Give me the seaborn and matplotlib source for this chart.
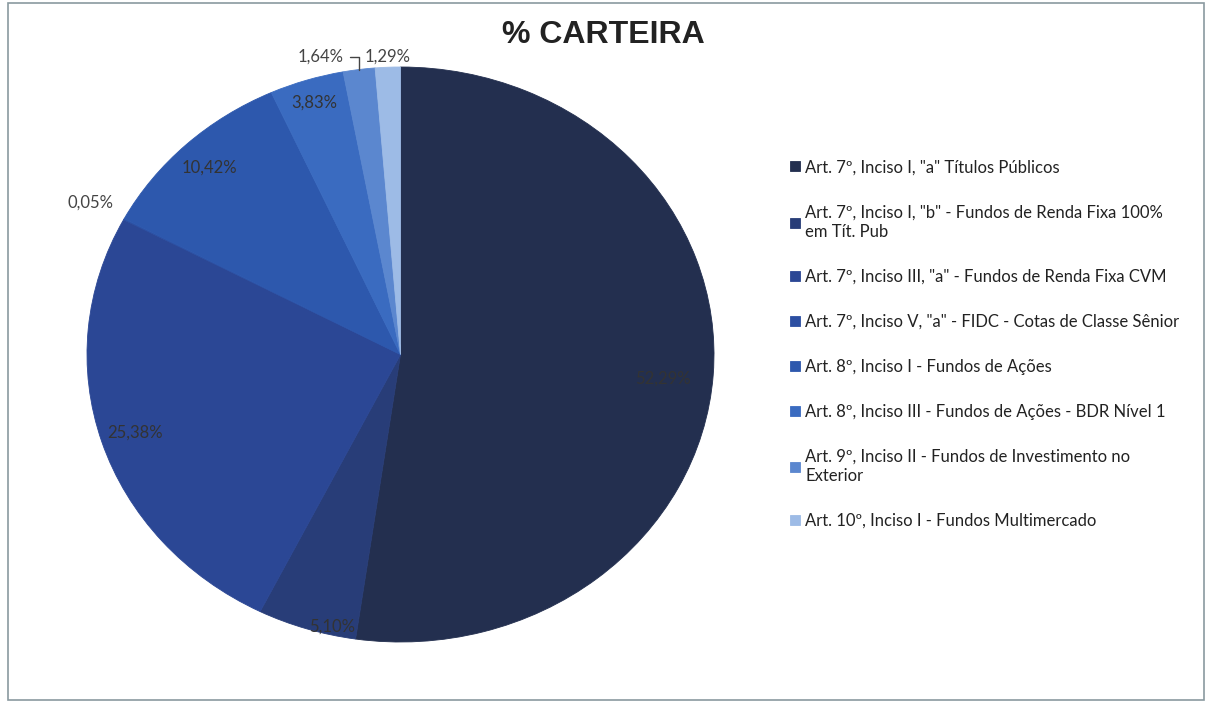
import numpy as np
import seaborn as sns
import matplotlib.pyplot as plt
from matplotlib.patches import Rectangle

categorias = [
    'Art. 7º, Inciso I, "a" Títulos Públicos',
    'Art. 7º, Inciso I, "b" - Fundos de Renda Fixa 100%\nem Tít. Pub',
    'Art. 7º, Inciso III, "a" - Fundos de Renda Fixa CVM',
    'Art. 7º, Inciso V, "a" - FIDC - Cotas de Classe Sênior',
    'Art. 8º, Inciso I - Fundos de Ações',
    'Art. 8º, Inciso III - Fundos de Ações - BDR Nível 1',
    'Art. 9º, Inciso II - Fundos de Investimento no\nExterior',
    'Art. 10º, Inciso I - Fundos Multimercado',
]
percentuais = [52.29, 5.10, 25.38, 0.05, 10.42, 3.83, 1.64, 1.29]
rotulos = ["52,29%", "5,10%", "25,38%", "0,05%", "10,42%", "3,83%", "1,64%", "1,29%"]
cores = ["#232f4f", "#283d78", "#2b4795", "#2c4fa2", "#2d58ad",
         "#3a6bc0", "#5b87cf", "#9dbbe6"]

sns.set_theme(style="white")
plt.rcParams["font.family"] = ["Lato", "DejaVu Sans"]

fig = plt.figure(figsize=(12.09, 7.03), dpi=100)
ax = fig.add_axes([87 / 1209, 61 / 703, 627 / 1209, 575 / 703])

wedges, _ = ax.pie(percentuais, colors=cores, startangle=90, counterclock=False,
                   wedgeprops=dict(linewidth=0.6))
for w, c in zip(wedges, cores):
    w.set_edgecolor(c)
ax.set_aspect("auto")
ax.set_xlim(-1, 1)
ax.set_ylim(-1, 1)

# posicao de cada rotulo (Excel "melhor ajuste"): raio e desvio angular
raios = [0.84, 0.97, 0.89, 1.12, 0.89, 0.92, None, None]
desvios = [-1.5, 4.5, 0, 0, 0, 0, 0, 0]
for w, txt, r, d in zip(wedges, rotulos, raios, desvios):
    if r is None:
        continue
    ang = np.deg2rad((w.theta1 + w.theta2) / 2 + d)
    ax.text(r * np.cos(ang), r * np.sin(ang), txt, ha="center", va="center",
            fontsize=12, color="#333333" if r < 1 else "#444444")

# rotulos externos das fatias pequenas
a7 = np.deg2rad((wedges[6].theta1 + wedges[6].theta2) / 2)
ax.annotate(rotulos[6], xy=(np.cos(a7), np.sin(a7)), xytext=(-0.255, 1.035),
            ha="center", va="center", fontsize=12, color="#444444",
            arrowprops=dict(arrowstyle="-", color="#444444", lw=1,
                            connectionstyle="angle,angleA=0,angleB=90,rad=0",
                            shrinkA=2, shrinkB=0))
ax.text(-0.04, 1.035, rotulos[7], ha="center", va="center", fontsize=12,
        color="#444444")
ax.axis("off")

fig.text(0.499, 0.950, "% CARTEIRA", ha="center", va="center", fontsize=23,
         fontweight="bold", family=["Liberation Sans", "DejaVu Sans"], color="#222222")

leg = ax.legend(wedges, categorias, loc="upper left",
                bbox_to_anchor=(782 / 1209, 1 - 151 / 703),
                bbox_transform=fig.transFigure, frameon=False, fontsize=12,
                labelspacing=1.74, handlelength=0.55, handleheight=0.55,
                handletextpad=0.35, borderpad=0, labelcolor="#222222")
for t in leg.get_texts():
    t.set_linespacing(1.25)

fig.patches.append(Rectangle((8 / 1209, 3 / 703), 1196 / 1209, 697 / 703,
                             transform=fig.transFigure, fill=False,
                             edgecolor="#8a9aa0", linewidth=1.2))

fig.savefig("out.png", dpi=100, facecolor="white")
